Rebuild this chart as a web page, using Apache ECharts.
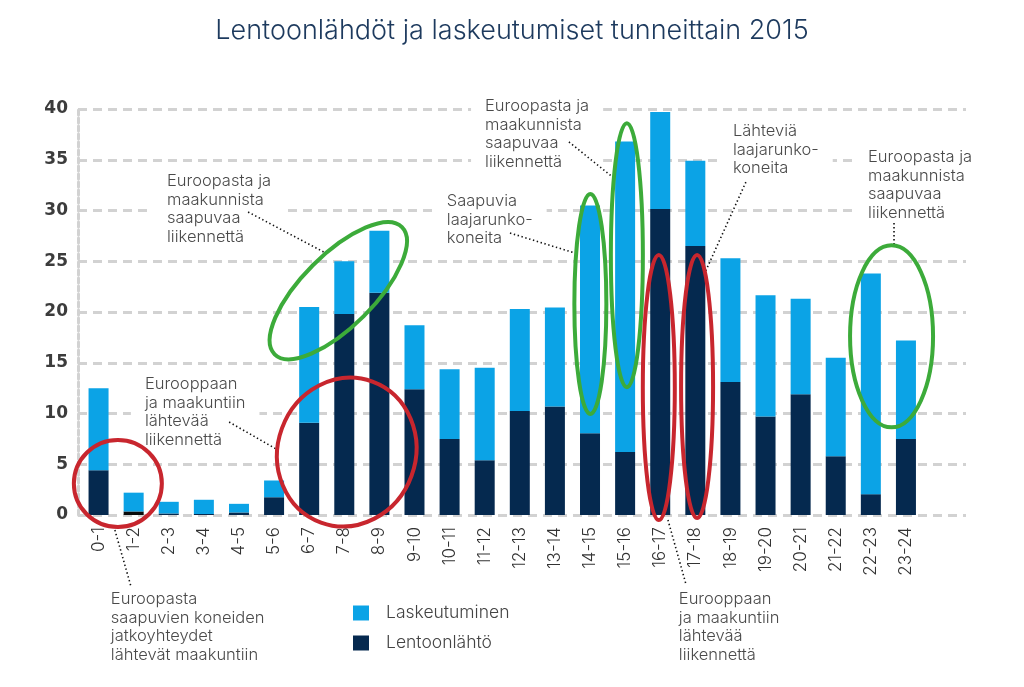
<!DOCTYPE html>
<html>
<head>
<meta charset="utf-8">
<script src="https://cdn.jsdelivr.net/npm/echarts@6/dist/echarts.min.js"></script>
<style>
html,body{margin:0;padding:0;background:#fff;}
#c{width:1024px;height:687px;}
</style>
</head>
<body>
<div id="c"></div>
<script>
// ---- data ----
const hours = ['0-1','1-2','2-3','3-4','4-5','5-6','6-7','7-8','8-9','9-10','10-11','11-12','12-13','13-14','14-15','15-16','16-17','17-18','18-19','19-20','20-21','21-22','22-23','23-24'];
const departures = [4.4,0.35,0.15,0.1,0.25,1.75,9.1,19.8,21.9,12.4,7.5,5.4,10.25,10.7,8.05,6.2,30.15,26.5,13.1,9.7,11.9,5.8,2.05,7.5];
const arrivals = [8.1,1.85,1.15,1.4,0.85,1.65,11.4,5.2,6.1,6.3,6.85,9.1,10.05,9.75,22.45,30.6,9.55,8.4,12.2,11.95,9.4,9.7,21.75,9.7];
const yTicks = [0,5,10,15,20,25,30,35,40];
const seriesNames = ['Laskeutuminen','Lentoonlähtö'];
const titleText = 'Lentoonlähdöt ja laskeutumiset tunneittain 2015';

// annotations in data space: c = category index (fractional), v = value
const ellipses = [
  {c:0.55, v:3.1, rx:44, ry:43.5, rot:0, color:'red'},
  {c:7.07, v:6.2, rx:69, ry:75, rot:-0.35, color:'red'},
  {c:6.83, v:22.1, rx:90, ry:36, rot:0.785, color:'green'},
  {c:14.01, v:20.8, rx:16, ry:110, rot:0, color:'green'},
  {c:15.05, v:25.6, rx:16, ry:132, rot:0, color:'green'},
  {c:15.96, v:12.55, rx:16, ry:132.5, rot:0, color:'red'},
  {c:17.05, v:12.65, rx:16, ry:131.5, rot:0, color:'red'},
  {c:22.59, v:17.6, rx:41.5, ry:91, rot:0, color:'green'}
];
const leaders = [
  [[0.465,-1.48],[0.92,-7.0]],
  [[3.72,9.16],[5.11,6.4]],
  [[4.26,29.85],[6.42,25.9]],
  [[13.4,36.75],[14.68,33.2]],
  [[11.72,27.78],[13.57,25.81]],
  [[18.44,32.8],[17.27,23.84]],
  [[22.66,28.77],[22.66,26.7]],
  [[16.22,-0.49],[16.74,-6.9]]
];
const notes = [
  {c:0.35, v:-7.39, text:'Euroopasta\nsaapuvien koneiden\njatkoyhteydet\nlähtevät maakuntiin', bg:false},
  {c:1.32, v:13.79, text:'Eurooppaan\nja maakuntiin\nlähtevää\nliikennettä', bg:true},
  {c:1.95, v:33.79, text:'Euroopasta ja\nmaakunnista\nsaapuvaa\nliikennettä', bg:true},
  {c:11.01, v:41.18, text:'Euroopasta ja\nmaakunnista\nsaapuvaa\nliikennettä', bg:true},
  {c:9.92, v:31.82, text:'Saapuvia\nlaajarunko-\nkoneita', bg:true},
  {c:18.07, v:38.72, text:'Lähteviä\nlaajarunko-\nkoneita', bg:true},
  {c:21.92, v:36.16, text:'Euroopasta ja\nmaakunnista\nsaapuvaa\nliikennettä', bg:true},
  {c:16.53, v:-7.39, text:'Eurooppaan\nja maakuntiin\nlähtevää\nliikennettä', bg:false}
];

const FONT = 'Inter, "Noto Sans", sans-serif';
const LIGHT = '#0ba3e6';
const DARK = '#05294f';
const RED = '#c8262e';
const GREEN = '#3cab3a';

const chart = echarts.init(document.getElementById('c'));
const gridTop = 109, gridBottom = 172;
chart.setOption({
  animation: false,
  backgroundColor: '#fff',
  title: {
    text: titleText, left: 'center', top: 12,
    textStyle: {fontFamily: FONT, fontSize: 27, fontWeight: 300, color: '#1d3a5e'}
  },
  legend: {
    orient: 'vertical', left: 348, top: 599, itemWidth: 16, itemHeight: 15, itemGap: 12,
    data: seriesNames, icon: 'rect',
    textStyle: {fontFamily: FONT, fontSize: 17.5, fontWeight: 300, color: '#444', padding: [0,0,0,12]}
  },
  grid: [
    {left: 81, right: 100.5, top: gridTop, bottom: gridBottom},
    {left: 78, right: 58, top: gridTop, bottom: gridBottom}
  ],
  xAxis: [
    {type: 'category', gridIndex: 0, data: hours,
     axisLine: {show: false}, axisTick: {show: false},
     axisLabel: {rotate: 90, margin: 12, fontFamily: FONT, fontSize: 17, fontWeight: 300, color: '#333'}},
    {type: 'value', gridIndex: 1, show: false, min: 0, max: 1}
  ],
  yAxis: [
    {type: 'value', gridIndex: 0, min: 0, max: 40, interval: 5, show: false},
    {type: 'value', gridIndex: 1, min: yTicks[0], max: yTicks[yTicks.length-1], interval: 5,
     axisLine: {show: true, lineStyle: {color: '#d2d2d2', width: 3, type: [5,3]}},
     axisTick: {show: false},
     axisLabel: {margin: 10, fontFamily: '"DejaVu Sans", sans-serif', fontWeight: 'bold', fontSize: 17, color: '#3c3c3c'},
     splitLine: {show: true, lineStyle: {color: '#d2d2d2', width: 3, type: [9,6]}}}
  ],
  series: [
    {name: seriesNames[1], type: 'bar', stack: 'a', xAxisIndex: 0, yAxisIndex: 0, barWidth: 20,
     itemStyle: {color: DARK},
     data: departures.map((v,i) => i === 1 ? {value: v, itemStyle: {color: '#0b0b0b'}} : v)},
    {name: seriesNames[0], type: 'bar', stack: 'a', xAxisIndex: 0, yAxisIndex: 0, barWidth: 20,
     itemStyle: {color: LIGHT}, data: arrivals}
  ]
});

const p0 = chart.convertToPixel({xAxisIndex: 0, yAxisIndex: 0}, [0, 0]);
const p1 = chart.convertToPixel({xAxisIndex: 0, yAxisIndex: 0}, [hours.length - 1, 40]);
function px(c, v) {
  return [p0[0] + c * (p1[0] - p0[0]) / (hours.length - 1), p0[1] + v * (p1[1] - p0[1]) / 40];
}
const g = [];
notes.forEach(n => {
  const p = px(n.c, n.v);
  g.push({type: 'text', x: p[0] - (n.bg ? 14 : 0), y: p[1], z: 50,
    style: {text: n.text, fontFamily: FONT, fontSize: 16.5, fontWeight: 300, fill: '#4a4a4a',
      lineHeight: 18.5, verticalAlign: 'top', align: 'left',
      backgroundColor: n.bg ? '#fff' : null, padding: n.bg ? [0, 14, 0, 14] : 0}});
});
leaders.forEach(l => {
  const a = px(l[0][0], l[0][1]), b = px(l[1][0], l[1][1]);
  g.push({type: 'line', z: 60, shape: {x1: a[0], y1: a[1], x2: b[0], y2: b[1]},
    style: {stroke: '#111', lineWidth: 1.6, lineDash: [1.4, 2.6]}});
});
ellipses.forEach(e => {
  const p = px(e.c, e.v);
  g.push({type: 'ellipse', z: 70, x: p[0], y: p[1], rotation: e.rot,
    shape: {cx: 0, cy: 0, rx: e.rx, ry: e.ry},
    style: {fill: null, stroke: e.color === 'red' ? RED : GREEN, lineWidth: 4}});
});
chart.setOption({graphic: g});
</script>
</body>
</html>
